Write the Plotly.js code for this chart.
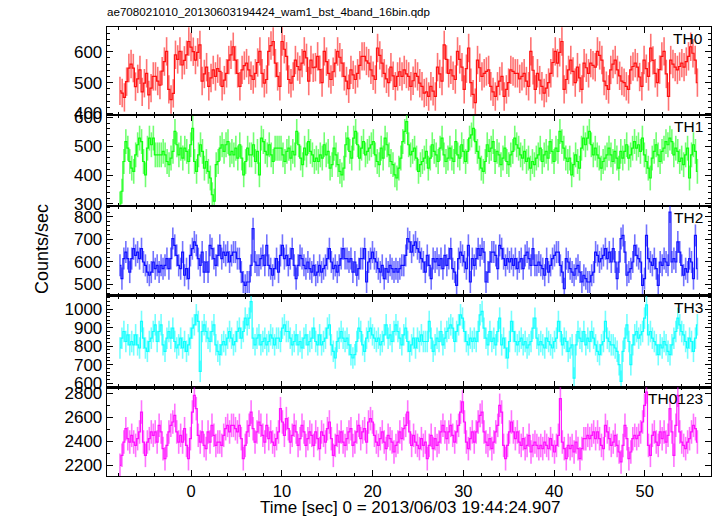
<!DOCTYPE html>
<html>
<head>
<meta charset="utf-8">
<script src="https://cdn.plot.ly/plotly-3.0.1.min.js"></script>
<style>html,body{margin:0;padding:0;background:#fff;}#chart{width:717px;height:516px;}</style>
</head>
<body>
<div id="chart"></div>
<script>
// Time span of the light curves (sec, relative to 2013/06/03 19:44:24.907)
const T_START = -7.85;
const T_END = 55.8;

const LABELS = ['TH0', 'TH1', 'TH2', 'TH3', 'TH0123'];

// Count rates (counts/sec), left to right
const th0 = [473,466,452,503,547,560,547,487,512,541,470,498,530,460,482,520,520,505,492,537,568,601,478,445,465,590,575,601,557,572,590,633,615,600,573,598,622,505,528,550,488,515,541,520,545,536,488,508,530,573,590,616,573,530,488,541,555,563,541,522,510,530,565,601,530,498,510,601,620,633,563,520,488,633,608,585,510,498,520,573,552,541,
563,601,580,505,573,548,550,585,542,500,601,568,530,510,535,563,601,582,563,520,505,480,541,525,510,530,556,585,585,570,563,541,522,510,612,588,563,530,512,500,550,522,488,520,535,520,541,528,520,488,506,530,520,498,488,466,470,455,488,472,455,550,528,505,622,575,530,541,522,510,601,575,550,478,545,612,500,462,435,573,548,520,530,536,541,488,470,455,488,505,
520,455,478,500,541,536,530,530,512,520,530,505,488,601,540,478,530,508,488,466,482,500,530,565,601,563,598,633,478,510,541,573,536,500,550,515,478,563,548,530,563,556,550,601,588,573,505,490,478,541,560,573,541,522,505,500,488,478,541,552,563,550,518,488,573,545,520,612,572,530,500,542,585,601,528,455,573,560,550,541,552,563,550,568,585,616,595,573,500];

const th1 = [300,344,447,516,493,447,424,413,470,505,528,516,447,401,493,528,505,528,470,470,470,470,482,470,447,436,459,482,551,505,470,493,459,493,482,447,505,562,447,413,470,505,482,424,447,413,390,332,310,436,447,493,505,482,505,516,470,482,470,493,459,505,459,401,447,493,470,470,505,447,482,401,528,516,482,470,505,470,447,493,493,493,493,470,447,482,493,459,482,470,551,505,459,436,493,470,516,482,470,447,459,447,470,459,505,470,482,424,436,493,470,436,413,401,424,505,528,482,459,528,551,505,459,493,516,470,482,493,505,516,470,447,436,493,459,528,505,470,447,436,401,390,424,459,516,551,585,505,470,482,493,459,413,436,447,459,482,424,459,505,482,470,447,493,528,470,447,459,493,459,447,516,470,459,505,482,447,482,528,539,562,516,482,459,424,413,447,505,482,493,516,447,482,470,436,459,493,447,436,470,482,528,505,493,470,459,482,447,459,424,447,436,459,470,493,447,470,482,459,516,482,447,493,482,551,516,493,459,447,459,401,436,470,447,424,493,528,505,528,551,505,470,493,470,459,424,447,459,470,493,470,447,482,459,424,482,459,482,505,459,470,493,516,493,505,482,528,470,447,424,390,459,482,505,470,447,482,493,516,505,528,516,470,493,482,447,459,436,470,493,390,470,505,482,413];

const th2 = [584,525,614,643,614,554,614,658,628,643,614,658,599,584,554,540,554,599,569,584,554,584,569,584,614,569,614,703,673,628,584,569,643,540,569,525,628,658,688,673,614,584,643,554,599,554,673,658,614,584,628,673,614,643,628,643,599,628,643,643,614,614,554,510,495,510,510,584,747,599,584,584,614,628,584,673,584,569,540,569,614,554,628,673,614,628,584,614,658,584,525,584,628,614,584,569,599,569,554,584,540,554,584,554,569,584,614,658,599,569,584,554,584,614,658,614,614,599,614,554,599,540,569,614,614,658,510,599,614,643,614,599,569,554,584,525,569,554,584,569,554,569,554,569,584,584,628,703,688,643,673,688,658,643,614,599,554,628,584,525,614,599,614,584,614,569,628,584,614,658,569,554,495,614,643,628,599,569,673,510,614,584,614,658,628,658,643,510,554,599,643,643,628,569,673,658,614,584,614,599,614,584,614,569,599,614,569,628,643,614,584,658,584,584,599,584,569,540,614,554,584,614,628,643,643,584,554,480,614,599,569,554,540,569,584,554,510,540,525,510,510,540,554,643,628,599,614,628,658,614,643,599,658,599,525,599,703,717,643,540,554,569,599,673,628,614,599,495,525,717,614,599,584,614,569,495,599,584,614,599,584,821,599,614,599,688,643,584,540,569,554,614,599,525,717,569];

const th3 = [790,843,879,825,861,807,825,807,861,807,790,933,843,790,772,825,843,879,915,825,879,915,807,772,843,879,843,897,825,790,807,843,790,825,772,807,843,897,915,969,933,664,879,915,879,843,825,879,915,807,772,754,807,825,807,843,879,843,807,825,879,897,843,879,951,915,951,1040,843,807,843,861,807,825,843,807,825,861,843,807,843,843,825,897,915,879,879,843,807,825,861,807,825,790,843,861,807,825,843,897,825,807,861,807,825,843,897,915,807,772,736,825,843,879,843,825,843,807,754,736,754,825,897,879,807,772,843,879,897,861,843,825,843,807,825,861,915,843,861,825,879,915,879,843,807,861,897,825,772,807,843,790,843,825,861,825,825,825,933,843,772,807,843,825,879,807,843,879,897,915,897,825,879,915,969,951,879,825,807,843,825,843,825,879,969,987,897,843,807,879,825,843,807,879,951,807,843,790,736,825,933,879,825,807,825,843,807,825,790,807,825,897,951,843,807,825,807,790,843,825,807,790,825,843,933,879,807,843,825,772,790,807,628,807,879,843,825,879,807,843,825,879,843,807,772,754,807,825,933,843,825,807,807,790,772,700,610,772,843,915,825,700,807,861,879,843,861,879,951,1022,861,879,843,825,807,754,807,790,825,807,772,754,807,843,879,951,915,879,861,825,790,843,825,772,843,915];

const th0123 = [2200,2283,2394,2505,2422,2394,2450,2394,2366,2422,2478,2644,2394,2283,2394,2422,2478,2450,2478,2394,2533,2478,2339,2255,2366,2478,2533,2561,2616,2478,2394,2450,2394,2505,2366,2255,2422,2644,2783,2672,2450,2394,2478,2366,2339,2478,2394,2533,2450,2366,2394,2394,2366,2450,2505,2533,2478,2533,2533,2505,2478,2533,2422,2255,2366,2478,2533,2644,2505,2394,2478,2561,2533,2450,2394,2533,2422,2478,2394,2366,2422,2478,2672,2561,2450,2589,2505,2394,2450,2533,2478,2366,2422,2533,2478,2366,2422,2478,2450,2366,2478,2422,2339,2478,2450,2394,2505,2561,2422,2283,2366,2450,2394,2478,2394,2366,2422,2478,2505,2366,2394,2478,2533,2422,2478,2505,2394,2561,2589,2561,2450,2394,2366,2422,2478,2394,2339,2450,2422,2394,2311,2366,2394,2478,2422,2505,2533,2644,2478,2366,2450,2394,2366,2339,2422,2366,2394,2255,2366,2450,2339,2422,2366,2394,2478,2533,2478,2422,2478,2533,2450,2394,2478,2533,2644,2728,2561,2394,2339,2422,2478,2394,2478,2561,2616,2644,2478,2394,2366,2422,2339,2394,2478,2533,2700,2644,2366,2255,2366,2478,2561,2478,2422,2478,2394,2366,2422,2339,2366,2450,2311,2366,2394,2366,2339,2366,2339,2394,2366,2339,2422,2366,2311,2366,2450,2755,2394,2339,2255,2366,2339,2366,2311,2394,2339,2255,2339,2422,2422,2450,2422,2450,2478,2422,2478,2422,2366,2339,2533,2478,2422,2366,2394,2450,2366,2311,2228,2366,2533,2422,2255,2311,2422,2450,2422,2450,2478,2561,2700,2811,2366,2283,2450,2478,2394,2366,2478,2422,2478,2394,2450,2672,2478,2283,2533,2783,2478,2394,2366,2339,2394,2422,2478,2533,2505,2394];

// One-sigma errors (counts/sec)
const ERR = [46, 43, 49, 58, 98];

const SERIES = [th0, th1, th2, th3, th0123];
const COLORS = ['#ff0000', '#00ff00', '#0000ff', '#00ffff', '#ff00ff'];
const YRANGES = [[395, 680], [293, 608], [449, 848], [578, 1072], [2111, 2850]];
const YDTICK = [100, 100, 100, 100, 200];
const YMINOR = [20, 20, 20, 20, 100];

// panel pixel edges (top, bottom)
const PLOT_TOP = 27, PLOT_BOTTOM = 476;
const EDGES = [27, 115, 206, 295.7, 387.3, 476];
const H = PLOT_BOTTOM - PLOT_TOP;
function frac(py) { return (PLOT_BOTTOM - py) / H; }

const FONT = 'Liberation Sans, Arial, Helvetica, sans-serif';

const traces = [];
SERIES.forEach((vals, k) => {
  const n = vals.length;
  const step = (T_END - T_START) / (n - 1);
  const t = vals.map((_, i) => T_START + i * step);
  const xa = k === 0 ? 'x' : 'x' + (k + 1);
  const ya = k === 0 ? 'y' : 'y' + (k + 1);
  // error bars as vertical segments (value +/- error)
  const ex = [], ey = [];
  vals.forEach((v, i) => { ex.push(t[i], t[i], null); ey.push(v - ERR[k], v + ERR[k], null); });
  traces.push({
    x: ex, y: ey, type: 'scatter', mode: 'lines', connectgaps: false,
    line: {color: COLORS[k], width: 1.6}, opacity: 0.55,
    xaxis: xa, yaxis: ya, hoverinfo: 'skip'
  });
  traces.push({
    x: t, y: vals, type: 'scatter', mode: 'lines',
    line: {color: COLORS[k], width: 1.2, shape: 'hvh'}, opacity: 0.9,
    xaxis: xa, yaxis: ya, hoverinfo: 'skip'
  });
});

const layout = {
  width: 717, height: 516,
  margin: {l: 107, r: 6, t: 27, b: 40, pad: 0},
  paper_bgcolor: '#fff', plot_bgcolor: '#fff',
  showlegend: false,
  font: {family: FONT, size: 17, color: '#000'},
  title: {text: 'ae708021010_20130603194424_wam1_bst_4band_16bin.qdp',
          xref: 'container', x: 107 / 717, xanchor: 'left',
          yref: 'container', y: 1 - 12 / 516, yanchor: 'middle',
          font: {family: FONT, size: 11.6, color: '#000'}},
  annotations: []
};

for (let k = 0; k < 5; k++) {
  const sx = k === 0 ? '' : String(k + 1);
  const top = EDGES[k], bot = EDGES[k + 1];
  layout['xaxis' + sx] = {
    range: [-9.28, 57.3], domain: [0, 1], anchor: 'y' + sx,
    showline: true, mirror: 'allticks', linecolor: '#000', linewidth: 1.3,
    ticks: 'inside', ticklen: 6, tickwidth: 1, tickcolor: '#000',
    tick0: 0, dtick: 10,
    minor: {dtick: 2, ticklen: 3, tickwidth: 1, tickcolor: '#000', ticks: 'inside'},
    showgrid: false, zeroline: false,
    showticklabels: k === 4, tickfont: {family: FONT, size: 16.5, color: '#000'}
  };
  layout['yaxis' + sx] = {
    range: YRANGES[k], domain: [frac(bot), frac(top)], anchor: 'x' + sx,
    showline: true, mirror: 'allticks', linecolor: '#000', linewidth: 1.3,
    ticks: 'inside', ticklen: 6, tickwidth: 1, tickcolor: '#000',
    tick0: 0, dtick: YDTICK[k],
    minor: {dtick: YMINOR[k], ticklen: 3, tickwidth: 1, tickcolor: '#000', ticks: 'inside'},
    showgrid: false, zeroline: false,
    tickfont: {family: FONT, size: 17, color: '#000'}
  };
  layout.annotations.push({
    text: LABELS[k], xref: 'paper', yref: 'paper',
    x: (705 - 107) / 604, xanchor: 'right',
    y: frac(top + 11.5), yanchor: 'middle',
    showarrow: false, font: {family: FONT, size: 15.5, color: '#000'}
  });
}

layout.annotations.push({
  text: 'Counts/sec', xref: 'paper', yref: 'paper',
  x: (42 - 107) / 604, y: frac(249), xanchor: 'center', yanchor: 'middle',
  textangle: -90, showarrow: false, font: {family: FONT, size: 18, color: '#000'}
});
layout.annotations.push({
  text: 'Time [sec] 0 = 2013/06/03 19:44:24.907', xref: 'paper', yref: 'paper',
  x: (410 - 107) / 604, y: frac(507), xanchor: 'center', yanchor: 'middle',
  showarrow: false, font: {family: FONT, size: 17, color: '#000'}
});

Plotly.newPlot('chart', traces, layout, {staticPlot: true, displayModeBar: false});
</script>
</body>
</html>
